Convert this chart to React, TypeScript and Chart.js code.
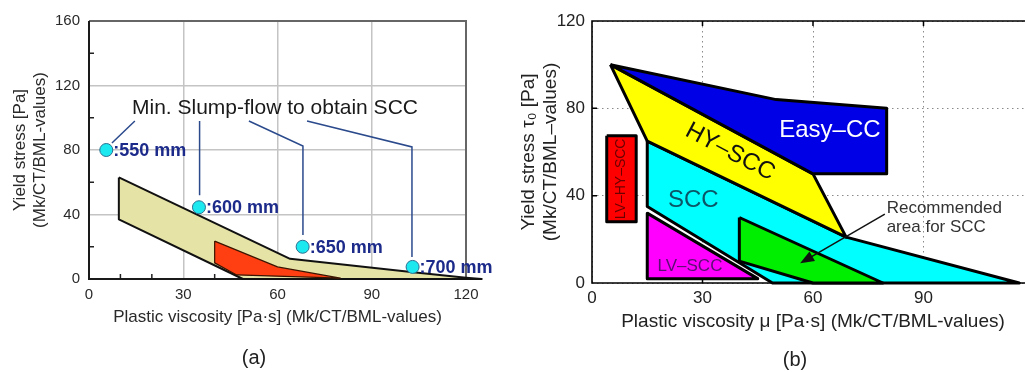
import React, { useEffect, useRef } from 'react';
import { Chart, registerables } from 'chart.js';
Chart.register(...registerables);

const FONT = "'Liberation Sans', Arial, Helvetica, sans-serif";

// ---------------- Chart (a) data ----------------
const aXTicks = [0, 30, 60, 90, 120];
const aYTicks = [0, 40, 80, 120, 160];
const aXMinor = [10, 20, 40, 50, 70, 80, 100, 110];
const aYMinor = [20, 60, 100, 140];
const aZoneX = [9.5, 64, 104, 120, 125, 49, 9.5, 9.5];
const aZoneY = [63, 12.5, 4, 0.8, 0, 0, 37, 63];
const aCoreX = [40, 60, 80, 47, 40, 40];
const aCoreY = [23.5, 7.5, 0.5, 2.5, 10, 23.5];
const slumpLabels = [':550 mm', ':600 mm', ':650 mm', ':700 mm'];
const slumpX = [5.5, 35, 68, 103];
const slumpY = [80, 44.5, 20, 7.5];
const leaderX = [[14.6, 7.3], [35.2, 35.2], [50.9, 68.1, 68.1], [69.4, 102.8, 102.8]];
const leaderY = [[98, 84.3], [98, 52], [98, 82.5, 27.3], [98, 81.9, 13.6]];
const aNoteText = 'Min. Slump-flow to obtain SCC';
const aNoteAt = [59.2, 106];

// ---------------- Chart (b) data ----------------
const bXTicks = [0, 30, 60, 90];
const bYTicks = [0, 40, 80, 120];
const easyX = [5, 50, 80, 80, 60, 5];
const easyY = [100, 84, 80, 50, 50, 100];
const hyX = [5, 60, 69, 15, 5];
const hyY = [100, 50, 21, 65, 100];
const sccX = [15, 69, 116, 49, 15, 15];
const sccY = [65, 21, 0, 0, 35, 65];
const lvX = [15, 15, 45, 15];
const lvY = [32, 2, 2, 32];
const lvhyX = [4, 12, 12, 4, 4];
const lvhyY = [67.5, 67.5, 28, 28, 67.5];
const recX = [40, 79, 60, 40, 40];
const recY = [30, 0, 0, 10, 30];
const arrowX = [79.5, 56.5];
const arrowY = [31.5, 9];
const bLabels = ['Easy–CC', 'HY–SCC', 'SCC', 'LV–SCC', 'LV–HY–SCC'];
const bLabelX = [64.6, 37.5, 27.5, 26.6, 8];
const bLabelY = [70, 60, 38, 7.5, 47.7];
const recLabel = ['Recommended', 'area for SCC'];
const recLabelX = 80;
const recLabelY = [34.2, 25.3];

const pts = (xs: number[], ys: number[]) => xs.map((x, i) => ({ x, y: ys[i] }));

function poly(xs: number[], ys: number[], fillColor: string, stroke: string, width: number, order: number) {
  return {
    data: pts(xs, ys),
    showLine: true,
    fill: 'shape',
    backgroundColor: fillColor,
    borderColor: stroke,
    borderWidth: width,
    borderJoinStyle: 'round',
    pointRadius: 0,
    tension: 0,
    clip: false,
    order,
  };
}

function drawArrowHead(ctx: CanvasRenderingContext2D, x1: number, y1: number, x2: number, y2: number) {
  const ang = Math.atan2(y2 - y1, x2 - x1);
  const len = 14;
  const hw = 5.5;
  ctx.beginPath();
  ctx.moveTo(x2, y2);
  ctx.lineTo(x2 - len * Math.cos(ang) + hw * Math.sin(ang), y2 - len * Math.sin(ang) - hw * Math.cos(ang));
  ctx.lineTo(x2 - len * Math.cos(ang) - hw * Math.sin(ang), y2 - len * Math.sin(ang) + hw * Math.cos(ang));
  ctx.closePath();
  ctx.fill();
}

export default function App() {
  const aRef = useRef<HTMLCanvasElement | null>(null);
  const bRef = useRef<HTMLCanvasElement | null>(null);

  useEffect(() => {
    const aDecor = {
      id: 'aDecor',
      beforeDatasetsDraw(chart: any) {
        const { ctx, chartArea: ca, scales } = chart;
        const x = scales.x, y = scales.y;
        ctx.save();
        ctx.strokeStyle = '#222';
        ctx.lineWidth = 1.5;
        ctx.beginPath();
        aXMinor.forEach((v) => {
          const px = x.getPixelForValue(v);
          ctx.moveTo(px, ca.bottom);
          ctx.lineTo(px, ca.bottom - 5);
        });
        aYMinor.forEach((v) => {
          const py = y.getPixelForValue(v);
          ctx.moveTo(ca.left, py);
          ctx.lineTo(ca.left + 5, py);
        });
        ctx.stroke();
        ctx.strokeStyle = '#666';
        ctx.lineWidth = 2;
        ctx.beginPath();
        ctx.moveTo(ca.left, ca.top);
        ctx.lineTo(ca.right, ca.top);
        ctx.lineTo(ca.right, ca.bottom);
        ctx.stroke();
        ctx.strokeStyle = '#1a1a1a';
        ctx.beginPath();
        ctx.moveTo(ca.left, ca.top);
        ctx.lineTo(ca.left, ca.bottom);
        ctx.lineTo(ca.right, ca.bottom);
        ctx.stroke();
        ctx.restore();
      },
      afterDatasetsDraw(chart: any) {
        const { ctx, scales } = chart;
        const x = scales.x, y = scales.y;
        ctx.save();
        ctx.font = `21px ${FONT}`;
        ctx.fillStyle = '#1a1a1a';
        ctx.textAlign = 'center';
        ctx.textBaseline = 'middle';
        ctx.fillText(aNoteText, x.getPixelForValue(aNoteAt[0]), y.getPixelForValue(aNoteAt[1]));
        ctx.font = `bold 18px ${FONT}`;
        ctx.fillStyle = '#1c2a8a';
        ctx.textAlign = 'left';
        slumpLabels.forEach((t, i) => {
          ctx.fillText(t, x.getPixelForValue(slumpX[i]) + 7, y.getPixelForValue(slumpY[i]) + 1);
        });
        ctx.restore();
      },
    };

    const aDatasets: any[] = [
      poly(aZoneX, aZoneY, '#e6e3a6', '#111', 2, 100),
      poly(aCoreX, aCoreY, '#ff3f12', '#3a1400', 1.2, 99),
      ...leaderX.map((xs, i) => ({
        data: pts(xs, leaderY[i]),
        showLine: true,
        borderColor: '#2b4a8c',
        borderWidth: 1.5,
        pointRadius: 0,
        fill: false,
        order: 50 - i,
      })),
      {
        data: pts(slumpX, slumpY),
        pointRadius: 6.5,
        pointBackgroundColor: '#1ce8f0',
        pointBorderColor: '#2a6f90',
        pointBorderWidth: 1,
        showLine: false,
        clip: false,
        order: 1,
      },
    ];

    const chartA = new Chart(aRef.current as HTMLCanvasElement, {
      type: 'scatter',
      data: { datasets: aDatasets },
      plugins: [aDecor],
      options: {
        animation: false,
        responsive: false,
        events: [],
        layout: { padding: { left: 0, top: 21, right: 34, bottom: 0 } },
        plugins: { legend: { display: false }, tooltip: { enabled: false } },
        scales: {
          x: {
            type: 'linear',
            min: 0,
            max: 120,
            afterBuildTicks: (s: any) => { s.ticks = aXTicks.map((v) => ({ value: v })); },
            afterFit: (s: any) => { s.height = 93; },
            grid: { color: '#c4c4c4', lineWidth: 1.5, drawTicks: false },
            border: { display: false },
            ticks: { padding: 7, color: '#2a2a2a', font: { family: FONT, size: 15 }, maxRotation: 0 },
            title: {
              display: true,
              text: 'Plastic viscosity [Pa·s] (Mk/CT/BML-values)',
              color: '#2a2a2a',
              font: { family: FONT, size: 17 },
              padding: { top: 0, bottom: 44 },
            },
          },
          y: {
            type: 'linear',
            min: 0,
            max: 160,
            afterBuildTicks: (s: any) => { s.ticks = aYTicks.map((v) => ({ value: v })); },
            afterFit: (s: any) => { s.width = 89; },
            grid: { color: '#c4c4c4', lineWidth: 1.5, drawTicks: false },
            border: { display: false },
            ticks: { padding: 9, color: '#2a2a2a', font: { family: FONT, size: 15 } },
            title: {
              display: true,
              text: ['Yield stress [Pa]', '(Mk/CT/BML-values)'],
              color: '#2a2a2a',
              font: { family: FONT, size: 17, lineHeight: 1.18 },
              padding: { top: 10, bottom: 0 },
            },
          },
        },
      } as any,
    });

    const bDecor = {
      id: 'bDecor',
      beforeDatasetsDraw(chart: any) {
        const { ctx, chartArea: ca, scales } = chart;
        const x = scales.x, y = scales.y;
        ctx.save();
        ctx.strokeStyle = '#000';
        ctx.lineWidth = 1.5;
        ctx.beginPath();
        bXTicks.slice(1).forEach((v) => {
          const px = x.getPixelForValue(v);
          ctx.moveTo(px, ca.bottom);
          ctx.lineTo(px, ca.bottom - 5);
          ctx.moveTo(px, ca.top);
          ctx.lineTo(px, ca.top + 5);
        });
        bYTicks.slice(1, 3).forEach((v) => {
          const py = y.getPixelForValue(v);
          ctx.moveTo(ca.left, py);
          ctx.lineTo(ca.left + 5, py);
        });
        ctx.stroke();
        ctx.lineWidth = 1.6;
        ctx.beginPath();
        ctx.moveTo(ca.right, ca.top);
        ctx.lineTo(ca.left, ca.top);
        ctx.lineTo(ca.left, ca.bottom);
        ctx.lineTo(ca.right, ca.bottom);
        ctx.stroke();
        ctx.restore();
      },
      afterDatasetsDraw(chart: any) {
        const { ctx, scales } = chart;
        const x = scales.x, y = scales.y;
        ctx.save();
        ctx.textAlign = 'center';
        ctx.textBaseline = 'middle';
        const styles = [
          { size: 24, color: '#ffffff', rot: 0 },
          { size: 24, color: '#111111', rot: 28 },
          { size: 24, color: '#0b5566', rot: 0 },
          { size: 17, color: '#5a1070', rot: 0 },
          { size: 14, color: '#6a0000', rot: -90 },
        ];
        bLabels.forEach((t, i) => {
          const st = styles[i];
          ctx.save();
          ctx.translate(x.getPixelForValue(bLabelX[i]), y.getPixelForValue(bLabelY[i]));
          ctx.rotate((st.rot * Math.PI) / 180);
          ctx.font = `${st.size}px ${FONT}`;
          ctx.fillStyle = st.color;
          ctx.fillText(t, 0, 0);
          ctx.restore();
        });
        ctx.font = `17px ${FONT}`;
        ctx.fillStyle = '#333';
        ctx.textAlign = 'left';
        recLabel.forEach((t, i) => {
          ctx.fillText(t, x.getPixelForValue(recLabelX), y.getPixelForValue(recLabelY[i]));
        });
        const x1 = x.getPixelForValue(arrowX[0]);
        const y1 = y.getPixelForValue(arrowY[0]);
        const x2 = x.getPixelForValue(arrowX[1]);
        const y2 = y.getPixelForValue(arrowY[1]);
        ctx.strokeStyle = '#111';
        ctx.fillStyle = '#111';
        ctx.lineWidth = 1.5;
        ctx.beginPath();
        ctx.moveTo(x1, y1);
        ctx.lineTo(x2 + (x1 - x2) * 0.08, y2 + (y1 - y2) * 0.08);
        ctx.stroke();
        drawArrowHead(ctx, x1, y1, x2, y2);
        ctx.restore();
      },
    };

    const bDatasets: any[] = [
      poly(sccX, sccY, '#00ffff', '#000', 3, 100),
      poly(hyX, hyY, '#ffff00', '#000', 3, 99),
      poly(easyX, easyY, '#0000e6', '#000', 3, 98),
      poly(lvX, lvY, '#ff00ff', '#000', 3, 97),
      poly(lvhyX, lvhyY, '#ff0000', '#000', 3, 96),
      poly(recX, recY, '#00ee00', '#000', 3, 95),
    ];

    const chartB = new Chart(bRef.current as HTMLCanvasElement, {
      type: 'scatter',
      data: { datasets: bDatasets },
      plugins: [bDecor],
      options: {
        animation: false,
        responsive: false,
        events: [],
        layout: { padding: { left: 0, top: 21, right: 26, bottom: 0 } },
        plugins: { legend: { display: false }, tooltip: { enabled: false } },
        scales: {
          x: {
            type: 'linear',
            min: 0,
            max: 120,
            afterBuildTicks: (s: any) => { s.ticks = bXTicks.map((v) => ({ value: v })); },
            afterFit: (s: any) => { s.height = 89; },
            grid: { color: '#8a8a8a', lineWidth: 1, drawTicks: false },
            border: { display: false, dash: [1.5, 3.5] },
            ticks: { padding: 5, color: '#222', font: { family: FONT, size: 17 }, maxRotation: 0 },
            title: {
              display: true,
              text: 'Plastic viscosity μ [Pa·s] (Mk/CT/BML-values)',
              color: '#222',
              font: { family: FONT, size: 19 },
              padding: { top: 0, bottom: 39 },
            },
          },
          y: {
            type: 'linear',
            min: 0,
            max: 120,
            afterBuildTicks: (s: any) => { s.ticks = bYTicks.map((v) => ({ value: v })); },
            afterFit: (s: any) => { s.width = 92; },
            grid: { color: '#8a8a8a', lineWidth: 1, drawTicks: false },
            border: { display: false, dash: [1.5, 3.5] },
            ticks: { padding: 7, color: '#222', font: { family: FONT, size: 17 } },
            title: {
              display: true,
              text: ['Yield stress τ₀ [Pa]', '(Mk/CT/BML–values)'],
              color: '#222',
              font: { family: FONT, size: 19, lineHeight: 1.16 },
              padding: { top: 18, bottom: 0 },
            },
          },
        },
      } as any,
    });

    return () => {
      chartA.destroy();
      chartB.destroy();
    };
  }, []);

  const caption: React.CSSProperties = {
    position: 'absolute',
    width: 60,
    textAlign: 'center',
    fontFamily: FONT,
    fontSize: 20,
    lineHeight: '24px',
    color: '#222',
  };

  return (
    <div style={{ position: 'fixed', left: 0, top: 0, width: 1025, height: 372, overflow: 'hidden', background: '#fff' }}>
      <canvas ref={aRef} width={500} height={372} style={{ position: 'absolute', left: 0, top: 0 }} />
      <canvas ref={bRef} width={560} height={372} style={{ position: 'absolute', left: 500, top: 0 }} />
      <div style={{ ...caption, left: 224, top: 345 }}>(a)</div>
      <div style={{ ...caption, left: 765, top: 347 }}>(b)</div>
    </div>
  );
}
